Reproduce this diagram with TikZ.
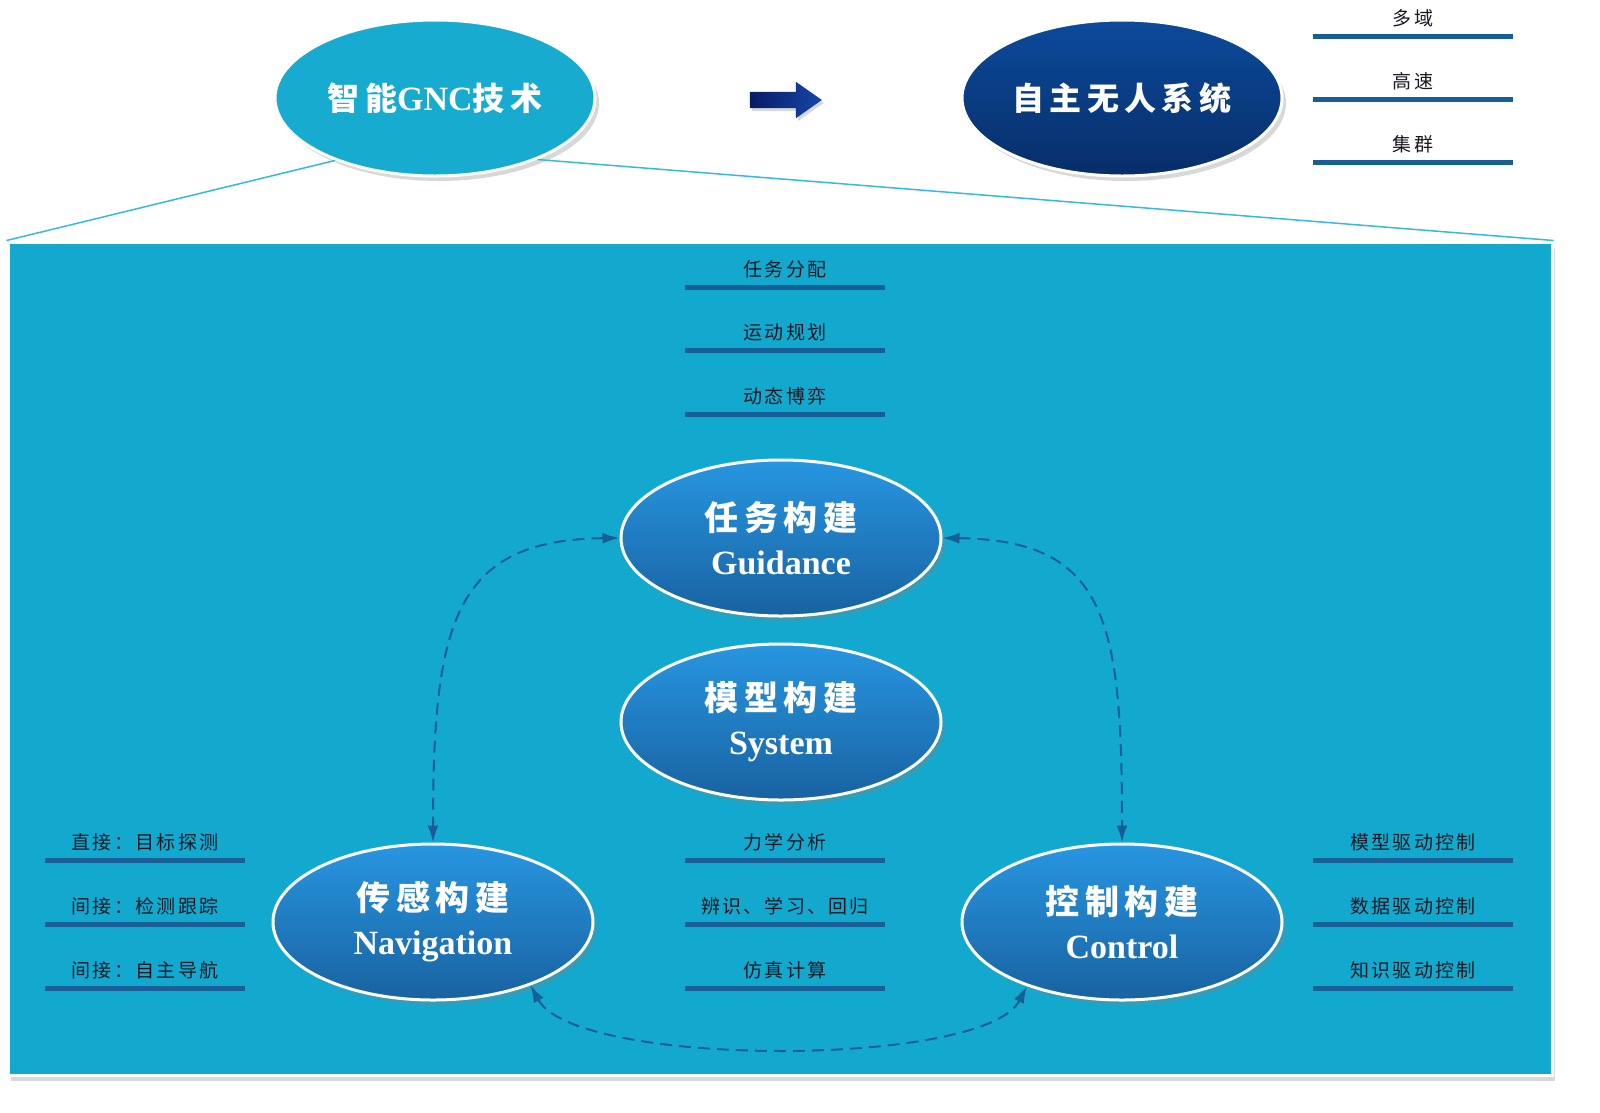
\documentclass[tikz,border=0pt]{standalone}
\usepackage{fontspec}
\setmainfont{Liberation Serif}
\newfontfamily\cjk{Noto Sans CJK SC}
\newfontfamily\cjkw[LetterSpace=12]{Noto Sans CJK SC}
\usetikzlibrary{shapes.geometric,shapes.arrows,shadows,arrows.meta}
\definecolor{panelc}{RGB}{19,169,207}
\definecolor{gncc}{RGB}{24,171,208}
\definecolor{darkTop}{RGB}{12,74,156}
\definecolor{darkBot}{RGB}{7,46,104}
\definecolor{ellTop}{RGB}{40,150,225}
\definecolor{ellBot}{RGB}{24,98,160}
\definecolor{barc}{RGB}{24,94,150}
\definecolor{labelc}{RGB}{25,25,35}
\definecolor{thinc}{RGB}{52,186,226}
\definecolor{arrL}{RGB}{8,28,100}
\definecolor{arrR}{RGB}{22,70,170}
\begin{document}
\begin{tikzpicture}[x=1pt,y=-1pt,
  ell/.style={ellipse, draw=white, line width=3pt, minimum width=320pt, minimum height=156pt,
    inner sep=0pt, text=white, align=center,
    drop shadow={opacity=0.3,shadow xshift=4pt,shadow yshift=-5pt}},
  blueell/.style={ell, top color=ellTop, bottom color=ellBot},
  ellfont/.style={font=\fontsize{34}{44}\selectfont},
  lbl/.style={font=\cjkw\fontsize{19}{22}\selectfont, text=labelc, anchor=base, inner sep=0pt},
  bar/.style={draw=barc, line width=5pt},
  thinline/.style={draw=thinc, line width=1.5pt},
  dlink/.style={draw=barc, line width=2pt, dash pattern=on 12pt off 7pt,
    {Latex[length=17pt,width=11pt]}-{Latex[length=17pt,width=11pt]}}]
\useasboundingbox (0,0) rectangle (1600,1112);
\fill[white] (0,0) rectangle (1600,1112);

% panel
\node[draw=white, line width=3pt, fill=panelc, minimum width=1544pt, minimum height=833pt,
  inner sep=0pt, drop shadow={opacity=0.3,shadow xshift=3pt,shadow yshift=-6pt}]
  (panel) at (780,658.5) {};

% top ellipses
\node[ell, fill=gncc] (gnc) at (435,98)
  {{\cjk\bfseries\fontsize{32}{40}\selectfont 智\,能}{\bfseries\fontsize{34}{40}\selectfont GNC}{\cjk\bfseries\fontsize{32}{40}\selectfont 技\,术}};
\node[ell, top color=darkTop, bottom color=darkBot] (uas) at (1122,98)
  {\cjk\bfseries\fontsize{32}{40}\selectfont 自\,主\,无\,人\,系\,统};
\node[single arrow, minimum height=72pt, inner xsep=0pt, inner ysep=8pt,
  single arrow head extend=10pt, single arrow tip angle=70, left color=arrL, right color=arrR,
  drop shadow={opacity=0.3,shadow xshift=2pt,shadow yshift=-3pt}] (arr) at (780,100) {};

\draw[thinline] (gnc.212) -- (panel.north west);
\draw[thinline] (gnc.-31) -- (panel.north east);

% top-right list
\foreach \t [count=\i] in {多域,高速,集群} {
  \node[lbl] (tr\i) at (1413,{36+63*(\i-1)-11}) {\t};
  \draw[bar] (1313,{36+63*(\i-1)}) -- (1513,{36+63*(\i-1)});
}
% guidance list
\foreach \t [count=\i] in {任务分配,运动规划,动态博弈} {
  \node[lbl] (gl\i) at (785,{287+63.5*(\i-1)-11}) {\t};
  \draw[bar] (685,{287+63.5*(\i-1)}) -- (885,{287+63.5*(\i-1)});
}
% navigation list
\foreach \t [count=\i] in {直接：目标探测,间接：检测跟踪,间接：自主导航} {
  \node[lbl] (nl\i) at (145,{860+64*(\i-1)-11}) {\t};
  \draw[bar] (45,{860+64*(\i-1)}) -- (245,{860+64*(\i-1)});
}
% system list
\foreach \t [count=\i] in {力学分析,辨识、学习、回归,仿真计算} {
  \node[lbl] (sl\i) at (785,{860+64*(\i-1)-11}) {\t};
  \draw[bar] (685,{860+64*(\i-1)}) -- (885,{860+64*(\i-1)});
}
% control list
\foreach \t [count=\i] in {模型驱动控制,数据驱动控制,知识驱动控制} {
  \node[lbl] (cl\i) at (1413,{860+64*(\i-1)-11}) {\t};
  \draw[bar] (1313,{860+64*(\i-1)}) -- (1513,{860+64*(\i-1)});
}

% main ellipses
\node[blueell, ellfont] (guid) at (781,538) {{\cjk\bfseries 任\,务\,构\,建}\\{\bfseries Guidance}};
\node[blueell, ellfont] (sys) at (781,722) {{\cjk\bfseries 模\,型\,构\,建}\\{\bfseries System}};
\node[blueell, ellfont] (nav) at (433,922) {{\cjk\bfseries 传\,感\,构\,建}\\{\bfseries Navigation}};
\node[blueell, ellfont] (ctrl) at (1122,922) {{\cjk\bfseries 控\,制\,构\,建}\\{\bfseries Control}};

% dashed links
\draw[dlink] (guid.west) .. controls (455,540) and (433,620) .. (nav.north);
\draw[dlink] (guid.east) .. controls (1107,540) and (1122,620) .. (ctrl.north);
\draw[dlink] (nav.-33) .. controls (575,1068) and (985,1068) .. (ctrl.214);
\end{tikzpicture}
\end{document}
